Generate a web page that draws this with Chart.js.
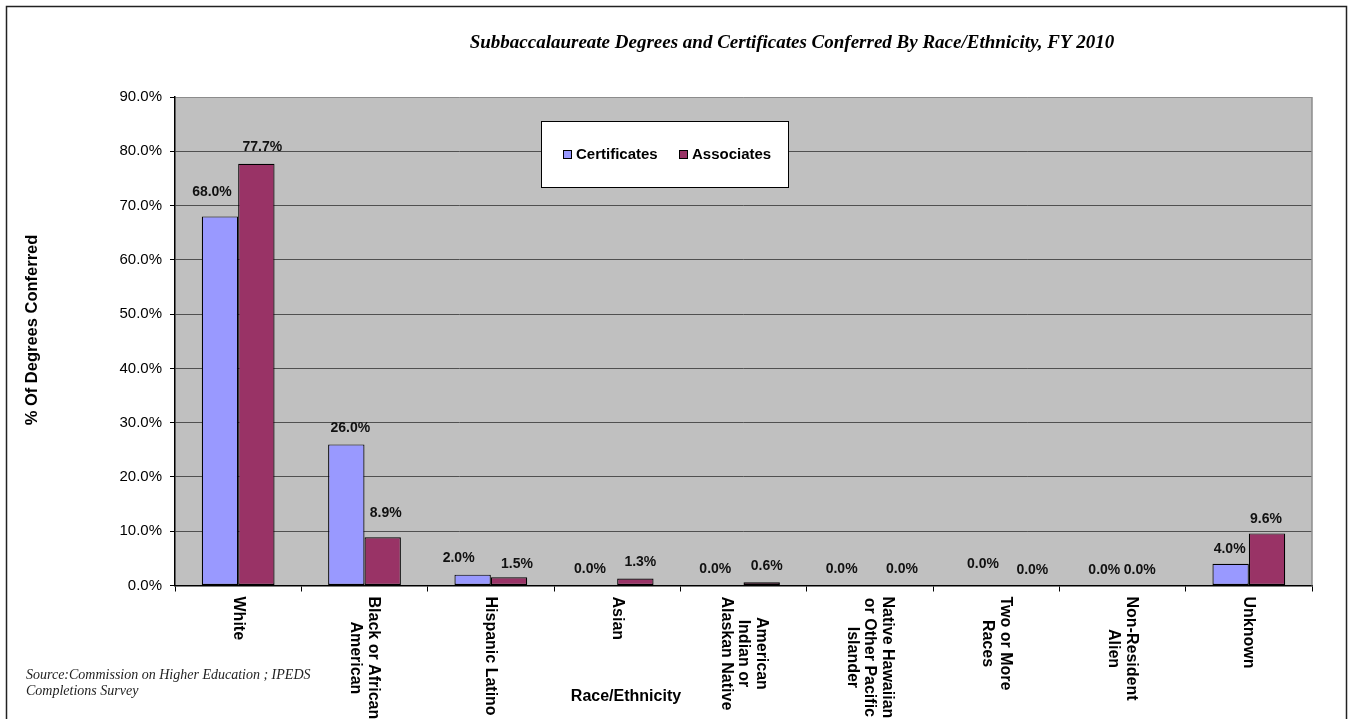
<!DOCTYPE html>
<html>
<head>
<meta charset="utf-8">
<script src="https://cdn.jsdelivr.net/npm/chart.js@4.4.1/dist/chart.umd.min.js"></script>
<style>
  html, body { margin: 0; padding: 0; background: #ffffff; }
  #wrap { width: 1351px; height: 719px; position: relative; }
</style>
</head>
<body>
<div id="wrap"><canvas id="chart" width="1351" height="719"></canvas></div>
<script>
// Race/ethnicity categories (each entry is the list of wrapped label lines)
const categories = [
  ["White"],
  ["Black or African", "American"],
  ["Hispanic Latino"],
  ["Asian"],
  ["American", "Indian or", "Alaskan Native"],
  ["Native Hawaiian", "or Other Pacific", "Islander"],
  ["Two or More", "Races"],
  ["Non-Resident", "Alien"],
  ["Unknown"]
];

// Share of awards conferred, in percent
const certificates = [68.0, 26.0, 2.0, 0.0, 0.0, 0.0, 0.0, 0.0, 4.0];
const associates   = [77.7, 8.9, 1.5, 1.3, 0.6, 0.0, 0.0, 0.0, 9.6];

// Value axis ticks
const yTickValues = [0, 10, 20, 30, 40, 50, 60, 70, 80, 90];

const seriesNames = ["Certificates", "Associates"];

const FONT = "'Liberation Sans', Arial, sans-serif";
const SERIF = "'Liberation Serif', 'Times New Roman', serif";
const CERT_COLOR = "#9999FF";
const ASSOC_COLOR = "#993366";

// Small hand placement tweaks for the value labels (pixels, relative to bar top-centre)
const labelNudge = {
  0: { dx: [-8, 4, -14, -9, -10, -10, 5, 0, -1], dy: [-24, -16.5, -16.5, -16.5, -16.5, -16.5, -21.5, -15, -15] },
  1: { dx: [6, 3, 8, 5, 5, 14, 18, -1, -1],      dy: [-16.5, -24, -13.5, -16.5, -16.5, -16.5, -15, -15, -14.5] }
};

const decorPlugin = {
  id: 'decor',
  beforeDraw(chart) {
    const { ctx, chartArea: a } = chart;
    ctx.save();
    // page background
    ctx.fillStyle = '#ffffff';
    ctx.fillRect(0, 0, chart.width, chart.height);
    // outer frame (open at the bottom edge of the page)
    ctx.strokeStyle = '#222222';
    ctx.lineWidth = 1.5;
    ctx.strokeRect(6.5, 6.5, 1340, 740);
    // plot area fill
    ctx.fillStyle = '#C0C0C0';
    ctx.fillRect(a.left, a.top, a.right - a.left, a.bottom - a.top);
    ctx.restore();
  },
  afterDatasetsDraw(chart) {
    const { ctx } = chart;
    ctx.save();
    ctx.font = "bold 14px " + FONT;
    ctx.fillStyle = '#111111';
    ctx.textAlign = 'center';
    ctx.textBaseline = 'middle';
    chart.data.datasets.forEach((ds, di) => {
      const meta = chart.getDatasetMeta(di);
      meta.data.forEach((el, i) => {
        const v = ds.data[i];
        const n = labelNudge[di];
        ctx.fillText(v.toFixed(1) + '%', el.x + n.dx[i], el.y + n.dy[i]);
      });
    });
    ctx.restore();
  },
  afterDraw(chart) {
    const { ctx, chartArea: a } = chart;
    const xs = chart.scales.x;
    ctx.save();

    // right edge of the plot area
    ctx.strokeStyle = '#8c8c8c';
    ctx.lineWidth = 1.5;
    ctx.beginPath();
    ctx.moveTo(a.right, a.top);
    ctx.lineTo(a.right, a.bottom);
    ctx.stroke();

    // category labels, turned to read downward
    ctx.font = "bold 16px " + FONT;
    ctx.fillStyle = '#000000';
    ctx.textBaseline = 'middle';
    ctx.textAlign = 'center';
    const lineH = 17.5;
    categories.forEach((lines, i) => {
      const x = xs.getPixelForValue(i);
      const w = Math.max(...lines.map(s => ctx.measureText(s).width));
      ctx.save();
      ctx.translate(x, a.bottom + 11);
      ctx.rotate(Math.PI / 2);
      lines.forEach((s, k) => {
        const off = (k - (lines.length - 1) / 2) * lineH;
        ctx.fillText(s, w / 2, off);
      });
      ctx.restore();
    });

    // axis titles
    ctx.font = "bold 16px " + FONT;
    ctx.textAlign = 'center';
    ctx.fillText('Race/Ethnicity', 626, 697);

    ctx.save();
    ctx.font = "bold 16.5px " + FONT;
    ctx.translate(32, 330);
    ctx.rotate(-Math.PI / 2);
    ctx.fillText('% Of Degrees Conferred', 0, 0);
    ctx.restore();

    // chart title
    ctx.font = "italic bold 19px " + SERIF;
    ctx.fillText('Subbaccalaureate Degrees and Certificates Conferred By Race/Ethnicity, FY 2010', 792, 43);

    // source note
    ctx.font = "italic 14px " + SERIF;
    ctx.textAlign = 'left';
    ctx.fillStyle = '#222222';
    ctx.fillText('Source:Commission on Higher Education ; IPEDS', 26, 675);
    ctx.fillText('Completions Survey', 26, 691);

    // legend box
    ctx.fillStyle = '#ffffff';
    ctx.fillRect(541.5, 121.5, 247, 66);
    ctx.strokeStyle = '#000000';
    ctx.lineWidth = 1;
    ctx.strokeRect(541.5, 121.5, 247, 66);
    const legendItems = [
      { name: seriesNames[0], color: CERT_COLOR, sx: 563.5, tx: 576 },
      { name: seriesNames[1], color: ASSOC_COLOR, sx: 679.5, tx: 692 }
    ];
    ctx.font = "bold 15px " + FONT;
    ctx.textBaseline = 'middle';
    legendItems.forEach(it => {
      ctx.fillStyle = it.color;
      ctx.fillRect(it.sx, 150.5, 8, 8);
      ctx.strokeStyle = '#000000';
      ctx.strokeRect(it.sx, 150.5, 8, 8);
      ctx.fillStyle = '#000000';
      ctx.fillText(it.name, it.tx, 155);
    });

    ctx.restore();
  }
};

new Chart(document.getElementById('chart'), {
  type: 'bar',
  data: {
    labels: categories.map(l => l.join(' ')),
    datasets: [
      {
        label: seriesNames[0],
        data: certificates,
        backgroundColor: CERT_COLOR,
        borderColor: '#000000',
        borderWidth: c => (c.raw === 0 ? 0 : 1.2),
        borderSkipped: false,
        categoryPercentage: 0.576,
        barPercentage: 1.0
      },
      {
        label: seriesNames[1],
        data: associates,
        backgroundColor: ASSOC_COLOR,
        borderColor: '#000000',
        borderWidth: c => (c.raw === 0 ? 0 : 1.2),
        borderSkipped: false,
        categoryPercentage: 0.576,
        barPercentage: 1.0
      }
    ]
  },
  options: {
    responsive: false,
    devicePixelRatio: 1,
    animation: false,
    layout: { padding: { top: 97, right: 39, bottom: 0, left: 0 } },
    plugins: {
      legend: { display: false },
      title: { display: false },
      tooltip: { enabled: false }
    },
    scales: {
      x: {
        offset: true,
        grid: {
          offset: true,
          drawOnChartArea: false,
          drawTicks: true,
          tickLength: 6,
          tickColor: '#000000',
          tickWidth: 1
        },
        border: { color: '#000000', width: 1.5 },
        ticks: { display: false },
        afterFit(scale) { scale.height = 133.5; }
      },
      y: {
        min: 0,
        max: 90,
        afterBuildTicks(scale) { scale.ticks = yTickValues.map(v => ({ value: v })); },
        grid: {
          color: c => (c.tick && c.tick.value === 90 ? '#8c8c8c' : '#505050'),
          lineWidth: 1,
          tickLength: 5,
          tickColor: '#000000'
        },
        border: { color: '#000000', width: 1.5 },
        ticks: {
          padding: 8,
          color: '#000000',
          font: { family: FONT, size: 15 },
          callback: v => v.toFixed(1) + '%'
        },
        afterFit(scale) { scale.width = 175; }
      }
    }
  },
  plugins: [decorPlugin]
});
</script>
</body>
</html>
